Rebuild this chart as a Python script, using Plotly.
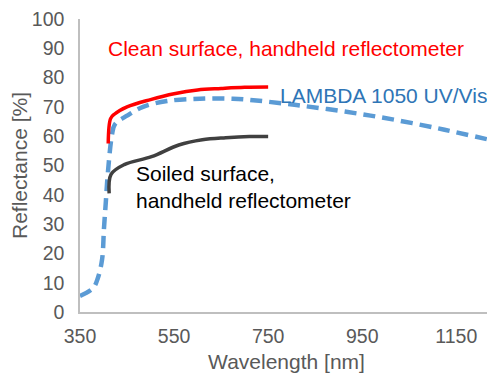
import plotly.graph_objects as go

# LAMBDA 1050 UV/Vis (dashed)
lambda_x = [350, 378, 388, 397, 401, 405, 409, 418, 424, 450, 484, 535, 605, 675, 711, 806, 913, 1019, 1125, 1220]
lambda_y = [5.5, 8.2, 11.6, 18, 28.6, 37.8, 47, 60.5, 64, 67, 70, 72, 72.8, 72.8, 72.4, 70.7, 68.4, 65.6, 62.2, 58.8]

# Clean surface, handheld reflectometer
clean_x = [410, 415, 423, 450, 500, 550, 600, 650, 700, 750]
clean_y = [57.5, 66, 67.5, 70, 72.5, 74.5, 75.8, 76.3, 76.7, 76.8]

# Soiled surface, handheld reflectometer
soiled_x = [412, 416, 444, 502, 560, 610, 660, 710, 750]
soiled_y = [40.5, 47, 50.3, 53, 57, 58.8, 59.5, 59.9, 59.9]

x_ticks = [350, 550, 750, 950, 1150]
y_ticks = [0, 10, 20, 30, 40, 50, 60, 70, 80, 90, 100]

FONT = "Liberation Sans, Arial, sans-serif"

fig = go.Figure()
fig.add_trace(go.Scatter(x=lambda_x, y=lambda_y, mode="lines",
                         line=dict(color="#5b9bd5", width=4.5, dash="12px,7px", shape="spline"),
                         showlegend=False))
fig.add_trace(go.Scatter(x=clean_x, y=clean_y, mode="lines",
                         line=dict(color="#ff0000", width=3.5, shape="spline"),
                         showlegend=False))
fig.add_trace(go.Scatter(x=soiled_x, y=soiled_y, mode="lines",
                         line=dict(color="#404040", width=3.5, shape="spline"),
                         showlegend=False))

fig.add_annotation(x=405, y=89.9, xref="x", yref="y", text="Clean surface, handheld reflectometer",
                   showarrow=False, xanchor="left", yanchor="middle",
                   font=dict(color="#ff0000", size=21, family=FONT))
fig.add_annotation(x=771, y=74, xref="x", yref="y", text="LAMBDA 1050 UV/Vis",
                   showarrow=False, xanchor="left", yanchor="middle",
                   font=dict(color="#2e75b6", size=21, family=FONT))
fig.add_annotation(x=465, y=42.8, xref="x", yref="y", text="Soiled surface,<br>handheld reflectometer",
                   showarrow=False, xanchor="left", yanchor="middle", align="left",
                   font=dict(color="#000000", size=21, family=FONT))

fig.update_layout(
    width=487, height=365,
    margin=dict(l=72, r=2, t=11, b=61),
    plot_bgcolor="white", paper_bgcolor="white",
    font=dict(family=FONT, size=19.5, color="#595959"),
)
fig.update_xaxes(range=[350, 1228], tickvals=x_ticks, showgrid=False, zeroline=False,
                 showline=True, linecolor="#bfbfbf", linewidth=1.5, ticks="", automargin=False,
                 ticklabelstandoff=6, ticklabeloverflow="allow",
                 title=dict(text="Wavelength [nm]", font=dict(size=21, color="#595959")),
                 tickfont=dict(size=19.5, color="#595959"))
fig.update_yaxes(range=[0, 100], tickvals=y_ticks, showgrid=False, zeroline=False,
                 showline=True, linecolor="#bfbfbf", linewidth=1.5, ticks="", automargin=False,
                 ticklabelstandoff=10, ticklabeloverflow="allow",
                 title=dict(text="Reflectance [%]", font=dict(size=21, color="#595959")),
                 tickfont=dict(size=19.5, color="#595959"))

fig.write_html("out.html")
